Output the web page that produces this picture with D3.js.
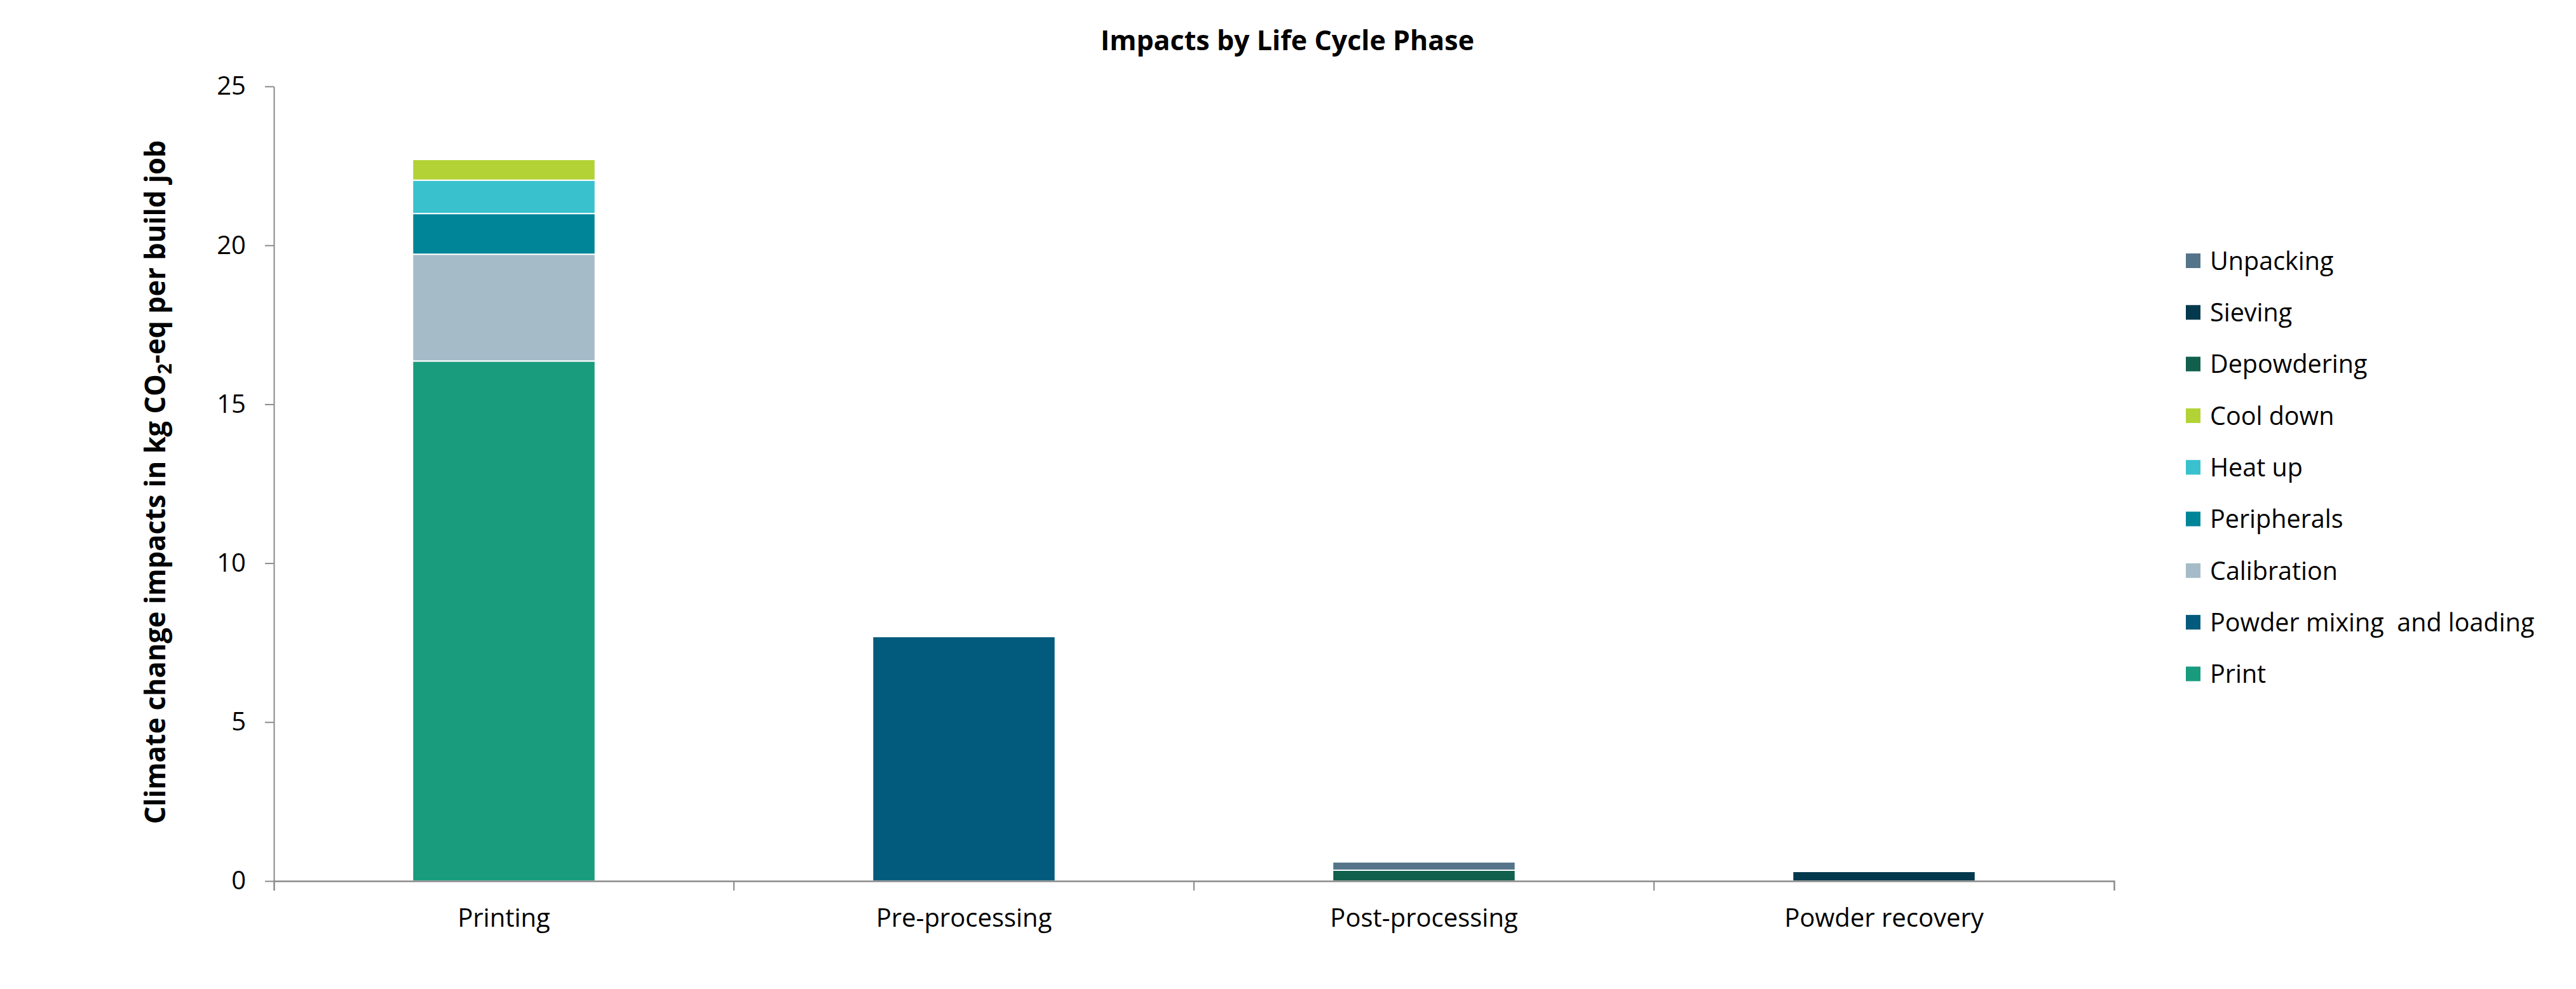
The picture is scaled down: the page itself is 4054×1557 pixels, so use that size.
<!DOCTYPE html>
<html>
<head>
<meta charset="utf-8">
<script src="https://cdn.jsdelivr.net/npm/d3@7"></script>
<style>
  html, body { margin: 0; padding: 0; background: #ffffff; }
  svg { display: block; }
  text { font-family: "Open Sans", "Noto Sans", sans-serif; fill: #000; }
</style>
</head>
<body>
<svg id="chart" width="4054" height="1557"></svg>
<script>
// ---------- data ----------
const categories = ["Printing", "Pre-processing", "Post-processing", "Powder recovery"];
const seriesNames = ["Print", "Powder mixing  and loading", "Calibration", "Peripherals", "Heat up", "Cool down", "Depowdering", "Sieving", "Unpacking"];
const seriesColors = ["#189C7D", "#025B7D", "#A6BBC8", "#008598", "#39C1CD", "#B2D235", "#115F4D", "#03384D", "#557489"];
const printValues       = [16.36, 0, 0, 0];
const powderMixValues   = [0, 7.69, 0, 0];
const calibrationValues = [3.36, 0, 0, 0];
const peripheralValues  = [1.28, 0, 0, 0];
const heatUpValues      = [1.05, 0, 0, 0];
const coolDownValues    = [0.65, 0, 0, 0];
const depowderValues    = [0, 0, 0.34, 0];
const sievingValues     = [0, 0, 0, 0.30];
const unpackingValues   = [0, 0, 0.26, 0];
const yTicks = [0, 5, 10, 15, 20, 25];
const chartTitle = "Impacts by Life Cycle Phase";

const seriesValues = [printValues, powderMixValues, calibrationValues, peripheralValues,
  heatUpValues, coolDownValues, depowderValues, sievingValues, unpackingValues];

// build table for d3.stack
const table = categories.map((c, i) => {
  const row = { category: c };
  seriesNames.forEach((s, j) => { row[s] = seriesValues[j][i]; });
  return row;
});

// ---------- layout ----------
const svg = d3.select("#chart");
const plotLeft = 431, plotRight = 3327, plotTop = 136, plotBottom = 1387;
const axisColor = "#8a8a8a";

const x = d3.scaleBand().domain(categories).range([plotLeft, plotRight]).padding(0);
const y = d3.scaleLinear().domain([0, 25]).range([plotBottom, plotTop]);
const barFrac = 0.397;
const barW = x.bandwidth() * barFrac;

const stack = d3.stack().keys(seriesNames);
const stacked = stack(table);
const color = d3.scaleOrdinal().domain(seriesNames).range(seriesColors);

// bars
const layers = svg.append("g").selectAll("g")
  .data(stacked).join("g")
  .attr("fill", d => color(d.key));
layers.selectAll("rect")
  .data(d => d.filter(p => p[1] - p[0] > 0))
  .join("rect")
  .attr("x", d => x(d.data.category) + (x.bandwidth() - barW) / 2)
  .attr("width", barW)
  .attr("y", d => y(d[1]))
  .attr("height", d => y(d[0]) - y(d[1]))
  .attr("stroke", "#ffffff")
  .attr("stroke-width", 2);

// y axis
const yAxis = svg.append("g")
  .attr("transform", `translate(${plotLeft},0)`)
  .call(d3.axisLeft(y).tickValues(yTicks).tickSize(14).tickSizeOuter(0).tickPadding(30));
yAxis.selectAll("path, line").attr("stroke", axisColor).attr("stroke-width", 2);
yAxis.selectAll("text").attr("font-size", 40).attr("font-family", "'Open Sans', sans-serif").attr("fill", "#000");

// x axis
const xAxis = svg.append("g")
  .attr("transform", `translate(0,${plotBottom})`)
  .call(d3.axisBottom(x).tickSize(0).tickSizeOuter(15).tickPadding(44));
xAxis.select(".domain").attr("stroke", axisColor).attr("stroke-width", 2.5);
xAxis.selectAll("text").attr("font-size", 40).attr("font-family", "'Open Sans', sans-serif").attr("fill", "#000");
// boundary ticks between categories
xAxis.selectAll("line.boundary")
  .data(categories.slice(1))
  .join("line")
  .attr("class", "boundary")
  .attr("x1", d => x(d)).attr("x2", d => x(d))
  .attr("y1", 0).attr("y2", 15)
  .attr("stroke", axisColor).attr("stroke-width", 2);

// title
svg.append("text")
  .attr("x", 2026).attr("y", 79)
  .attr("text-anchor", "middle")
  .attr("font-size", 43).attr("font-weight", "bold")
  .text(chartTitle);

// y axis title
const yTitle = svg.append("text")
  .attr("text-anchor", "middle")
  .attr("font-size", 44).attr("font-weight", "bold");
yTitle.append("tspan").text("Climate change impacts in kg CO");
yTitle.append("tspan").attr("font-size", 30).attr("dy", 10).text("2");
yTitle.append("tspan").attr("dy", -10).text("-eq per build job");
const natLen = yTitle.node().getComputedTextLength();
const targetLen = 1077;
yTitle.attr("transform", `translate(260,759) rotate(-90) scale(${targetLen / natLen},1)`);

// legend
const legendNames = seriesNames.slice().reverse();
const legend = svg.append("g").attr("transform", "translate(3440,410.5)");
const items = legend.selectAll("g").data(legendNames).join("g")
  .attr("transform", (d, i) => `translate(0,${i * 81.3})`);
items.append("rect")
  .attr("x", 0).attr("y", -11.5).attr("width", 23).attr("height", 23)
  .attr("fill", d => color(d));
items.append("text")
  .attr("x", 38).attr("y", 0).attr("dy", "0.36em")
  .attr("font-size", 39.5)
  .style("white-space", "pre")
  .text(d => d);
</script>
</body>
</html>
